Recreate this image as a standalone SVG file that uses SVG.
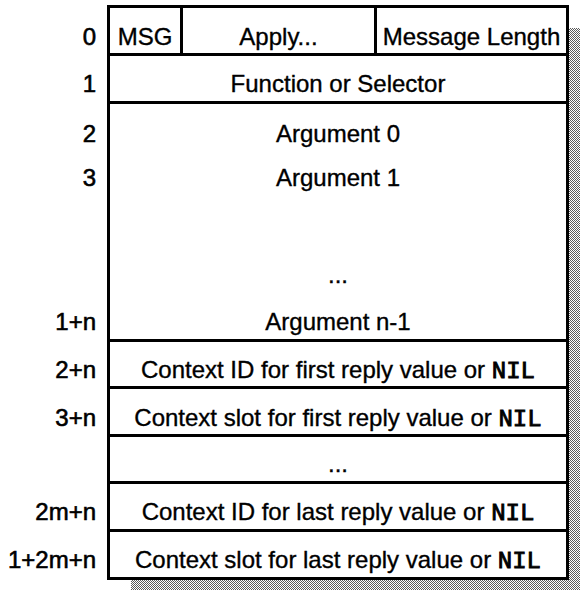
<svg xmlns="http://www.w3.org/2000/svg" width="580" height="594" viewBox="0 0 580 594">
  <style>
    .cell { fill: #ffffff; stroke: none; }
    .rule { stroke: #000000; stroke-width: 3; fill: none; }
    .txt { font-family: "Liberation Sans", Arial, Helvetica, sans-serif; font-size: 24px; fill: #000000; stroke: #000000; stroke-width: 0.35px; text-anchor: middle; }
    .lbl { font-family: "Liberation Sans", Arial, Helvetica, sans-serif; font-size: 24px; fill: #000000; stroke: #000000; stroke-width: 0.6px; text-anchor: end; }
    .mono { font-family: "Liberation Mono", "Courier New", monospace; font-weight: normal; stroke-width: 0.9px; }
  </style>
  <defs>
    <!-- halftone dither used for the drop shadow -->
    <pattern id="dither" x="0" y="0" width="2" height="2" patternUnits="userSpaceOnUse">
      <rect x="0" y="0" width="1" height="1" fill="#5a5a5a"/>
      <rect x="1" y="1" width="1" height="1" fill="#5a5a5a"/>
    </pattern>
  </defs>

  <rect width="580" height="594" fill="#ffffff"/>

  <!-- drop shadow behind the message frame -->
  <rect id="shadow" x="131" y="28" width="449" height="562" fill="url(#dither)"/>

  <!-- message frame body -->
  <rect class="cell" x="108.5" y="6.5" width="459" height="572"/>

  <!-- row and column rules -->
  <g id="rules">
    <rect class="rule" x="108.5" y="6.5" width="459" height="572"/>
    <line class="rule" x1="108.5" y1="54.5" x2="567.5" y2="54.5"/>
    <line class="rule" x1="108.5" y1="102.5" x2="567.5" y2="102.5"/>
    <line class="rule" x1="108.5" y1="340.5" x2="567.5" y2="340.5"/>
    <line class="rule" x1="108.5" y1="387.5" x2="567.5" y2="387.5"/>
    <line class="rule" x1="108.5" y1="435.5" x2="567.5" y2="435.5"/>
    <line class="rule" x1="108.5" y1="482.5" x2="567.5" y2="482.5"/>
    <line class="rule" x1="108.5" y1="530.5" x2="567.5" y2="530.5"/>
    <line class="rule" x1="181.5" y1="6.5" x2="181.5" y2="54.5"/>
    <line class="rule" x1="375.5" y1="6.5" x2="375.5" y2="54.5"/>
  </g>

  <!-- word 0: header -->
  <g id="row-0">
    <text class="lbl" x="96" y="45">0</text>
    <text class="txt" x="145" y="45">MSG</text>
    <text class="txt" x="278.5" y="45">Apply...</text>
    <text class="txt" x="471.5" y="45">Message Length</text>
  </g>

  <g id="row-1">
    <text class="lbl" x="96" y="92">1</text>
    <text class="txt" x="338" y="92">Function or Selector</text>
  </g>

  <!-- argument block -->
  <g id="arguments">
    <text class="lbl" x="96" y="142">2</text>
    <text class="txt" x="338" y="142">Argument 0</text>
    <text class="lbl" x="96" y="186">3</text>
    <text class="txt" x="338" y="186">Argument 1</text>
    <text class="txt" x="338" y="283">...</text>
    <text class="lbl" x="96" y="330">1+n</text>
    <text class="txt" x="338" y="330">Argument n-1</text>
  </g>

  <g id="row-2n">
    <text class="lbl" x="96" y="378">2+n</text>
    <text class="txt" x="338" y="378">Context ID for first reply value or <tspan class="mono">NIL</tspan></text>
  </g>

  <g id="row-3n">
    <text class="lbl" x="96" y="426">3+n</text>
    <text class="txt" x="338" y="426">Context slot for first reply value or <tspan class="mono">NIL</tspan></text>
  </g>

  <g id="row-ellipsis">
    <text class="txt" x="338" y="472">...</text>
  </g>

  <g id="row-2mn">
    <text class="lbl" x="96" y="520">2m+n</text>
    <text class="txt" x="338" y="520">Context ID for last reply value or <tspan class="mono">NIL</tspan></text>
  </g>

  <g id="row-12mn">
    <text class="lbl" x="96" y="568">1+2m+n</text>
    <text class="txt" x="338" y="568">Context slot for last reply value or <tspan class="mono">NIL</tspan></text>
  </g>
</svg>
